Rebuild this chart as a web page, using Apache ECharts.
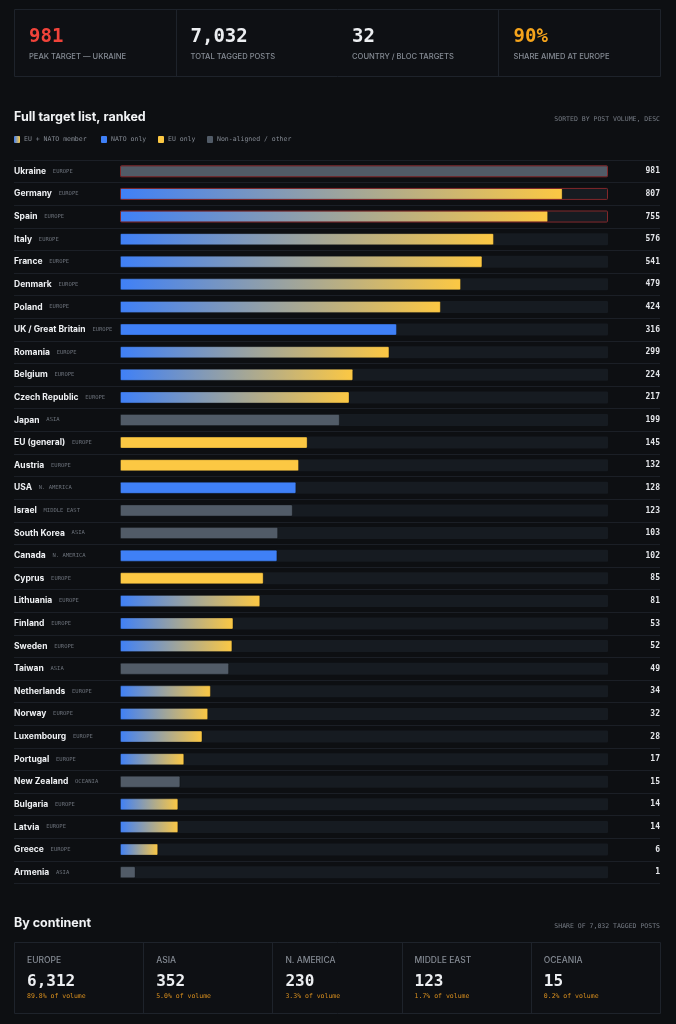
<!DOCTYPE html>
<html>
<head>
<meta charset="utf-8">
<title>Full target list, ranked</title>
<script src="https://cdn.jsdelivr.net/npm/echarts@6/dist/echarts.min.js"></script>
<style>
    html, body { margin: 0; padding: 0; background: #0d0f12; }
    #targets_chart { width: 676px; height: 1024px; }
</style>
</head>
<body>
<div id="targets_chart"></div>
<script>

// Data
// ------------------------------

var categories = ['Ukraine', 'Germany', 'Spain', 'Italy', 'France', 'Denmark', 'Poland', 'UK / Great Britain',
    'Romania', 'Belgium', 'Czech Republic', 'Japan', 'EU (general)', 'Austria', 'USA', 'Israel', 'South Korea',
    'Canada', 'Cyprus', 'Lithuania', 'Finland', 'Sweden', 'Taiwan', 'Netherlands', 'Norway', 'Luxembourg',
    'Portugal', 'New Zealand', 'Bulgaria', 'Latvia', 'Greece', 'Armenia'];

var regions = ['EUROPE', 'EUROPE', 'EUROPE', 'EUROPE', 'EUROPE', 'EUROPE', 'EUROPE', 'EUROPE',
    'EUROPE', 'EUROPE', 'EUROPE', 'ASIA', 'EUROPE', 'EUROPE', 'N. AMERICA', 'MIDDLE EAST', 'ASIA',
    'N. AMERICA', 'EUROPE', 'EUROPE', 'EUROPE', 'EUROPE', 'ASIA', 'EUROPE', 'EUROPE', 'EUROPE',
    'EUROPE', 'OCEANIA', 'EUROPE', 'EUROPE', 'EUROPE', 'ASIA'];

var posts = [981, 807, 755, 576, 541, 479, 424, 316, 299, 224, 217, 199, 145, 132, 128, 123, 103,
    102, 85, 81, 53, 52, 49, 34, 32, 28, 17, 15, 14, 14, 6, 1];

// both = EU + NATO, nato = NATO only, eu = EU only, none = non-aligned / other
var blocs = ['none', 'both', 'both', 'both', 'both', 'both', 'both', 'nato',
    'both', 'both', 'both', 'none', 'eu', 'eu', 'nato', 'none', 'none',
    'nato', 'eu', 'both', 'both', 'both', 'none', 'both', 'both', 'both',
    'both', 'none', 'both', 'both', 'both', 'none'];

var flagged = ['Ukraine', 'Germany', 'Spain'];

var legendKeys = ['both', 'nato', 'eu', 'none'];
var legendLabels = ['EU + NATO member', 'NATO only', 'EU only', 'Non-aligned / other'];

var kpiValues = ['981', '7,032', '32', '90%'];
var kpiLabels = ['PEAK TARGET \u2014 UKRAINE', 'TOTAL TAGGED POSTS', 'COUNTRY / BLOC TARGETS', 'SHARE AIMED AT EUROPE'];

var continentNames = ['EUROPE', 'ASIA', 'N. AMERICA', 'MIDDLE EAST', 'OCEANIA'];
var continentPosts = [6312, 352, 230, 123, 15];
var totalPosts = 7032;


// Setup
// ------------------------------

var BLUE = '#3f80f7';
var YELLOW = '#fcc843';
var GRAY = '#515b67';
var SANS = 'Inter, "Noto Sans", sans-serif';
var MONO = '"DejaVu Sans Mono", "Liberation Mono", monospace';

var blocColor = function(key) {
    if (key === 'nato') return BLUE;
    if (key === 'eu') return YELLOW;
    if (key === 'none') return GRAY;
    return new echarts.graphic.LinearGradient(0, 0, 1, 0, [
        { offset: 0, color: BLUE },
        { offset: 1, color: YELLOW }
    ]);
};

// bar length follows the square root of the post count
var rootMax = Math.sqrt(Math.max.apply(null, posts));
var trackLeft = 120, trackRight = 608, gridLeft = 14, gridRight = 660;
var unitPx = (trackRight - trackLeft) / rootMax;

var chart = echarts.init(document.getElementById('targets_chart'), null, { renderer: 'canvas' });

var graphics = [];

// KPI strip
graphics.push({
    type: 'rect', shape: { x: 14.5, y: 9.5, width: 646, height: 67 },
    style: { fill: '#0e1014', stroke: '#1e232b', lineWidth: 1 }, z: 0
});
[176, 498].forEach(function(x) {
    graphics.push({ type: 'line', shape: { x1: x + 0.5, y1: 10, x2: x + 0.5, y2: 76 }, style: { stroke: '#1e232b', lineWidth: 1 } });
});
var kpiColors = ['#f0433a', '#eceef1', '#eceef1', '#f5a41c'];
kpiValues.forEach(function(v, i) {
    var x = 29 + i * 161.5;
    graphics.push({ type: 'text', x: x, y: 37, style: { text: v, fill: kpiColors[i], font: 'bold 19px ' + MONO, verticalAlign: 'middle' } });
    graphics.push({ type: 'text', x: x, y: 57, style: { text: kpiLabels[i], fill: '#858b94', font: '500 7.6px ' + SANS, verticalAlign: 'middle' } });
});

// Section header + legend
graphics.push({ type: 'text', x: 14, y: 117, style: { text: 'Full target list, ranked', fill: '#f1f3f5', font: 'bold 12.5px ' + SANS, verticalAlign: 'middle' } });
graphics.push({ type: 'text', x: 660, y: 119, style: { text: 'SORTED BY POST VOLUME, DESC', fill: '#767c85', font: '6.5px ' + MONO, align: 'right', verticalAlign: 'middle' } });

var legendX = [14, 101, 158, 207];
legendKeys.forEach(function(k, i) {
    graphics.push({ type: 'rect', shape: { x: legendX[i], y: 136, width: 6, height: 7, r: 1 }, style: { fill: blocColor(k) } });
    graphics.push({ type: 'text', x: legendX[i] + 10, y: 139.5, style: { text: legendLabels[i], fill: '#858b94', font: '6.5px ' + MONO, verticalAlign: 'middle' } });
});

// Continent section
graphics.push({ type: 'text', x: 14, y: 923, style: { text: 'By continent', fill: '#f1f3f5', font: 'bold 12.5px ' + SANS, verticalAlign: 'middle' } });
graphics.push({ type: 'text', x: 660, y: 926, style: { text: 'SHARE OF ' + totalPosts.toLocaleString('en-US') + ' TAGGED POSTS', fill: '#767c85', font: '6.5px ' + MONO, align: 'right', verticalAlign: 'middle' } });
graphics.push({
    type: 'rect', shape: { x: 14.5, y: 942.5, width: 646, height: 71 },
    style: { fill: '#0e1014', stroke: '#1e232b', lineWidth: 1 }
});
continentNames.forEach(function(name, i) {
    var x0 = 14 + i * 129.2;
    if (i > 0) {
        graphics.push({ type: 'line', shape: { x1: Math.round(x0) + 0.5, y1: 943, x2: Math.round(x0) + 0.5, y2: 1013 }, style: { stroke: '#1e232b', lineWidth: 1 } });
    }
    graphics.push({ type: 'text', x: x0 + 13, y: 960, style: { text: name, fill: '#858b94', font: '500 8.5px ' + SANS, verticalAlign: 'middle' } });
    graphics.push({ type: 'text', x: x0 + 13, y: 982, style: { text: continentPosts[i].toLocaleString('en-US'), fill: '#eceef1', font: 'bold 16px ' + MONO, verticalAlign: 'middle' } });
    graphics.push({ type: 'text', x: x0 + 13, y: 996, style: { text: (continentPosts[i] / totalPosts * 100).toFixed(1) + '% of volume', fill: '#d98f1e', font: '6.5px ' + MONO, verticalAlign: 'middle' } });
});


// Chart config
// ------------------------------

chart.setOption({
    backgroundColor: '#0d0f12',
    animation: false,
    textStyle: { fontFamily: SANS },

    grid: {
        left: gridLeft,
        right: 676 - gridRight,
        top: 160,
        height: 723.5
    },

    xAxis: {
        type: 'value',
        min: -(trackLeft - gridLeft) / unitPx,
        max: rootMax + (gridRight - trackRight) / unitPx,
        show: false
    },

    yAxis: [
        {
            type: 'category',
            data: categories,
            inverse: true,
            position: 'left',
            axisLine: { show: false },
            axisTick: { show: false },
            splitLine: { show: true, lineStyle: { color: '#1b1f26', width: 1 } },
            axisLabel: {
                inside: true,
                margin: 0,
                formatter: function(name, idx) {
                    return '{n|' + name + '}  {r|' + regions[idx] + '}';
                },
                rich: {
                    n: { color: '#eef0f3', fontFamily: SANS, fontWeight: 'bold', fontSize: 8.5 },
                    r: { color: '#6b717a', fontFamily: MONO, fontSize: 5.5 }
                }
            }
        },
        {
            type: 'category',
            data: posts.map(String),
            inverse: true,
            position: 'right',
            axisLine: { show: false },
            axisTick: { show: false },
            splitLine: { show: false },
            axisLabel: {
                inside: true,
                margin: 0,
                color: '#e4e6ea',
                fontFamily: MONO,
                fontWeight: 'bold',
                fontSize: 8,
                padding: [2, 0, 0, 0]
            }
        }
    ],

    series: [
        {
            name: 'track',
            type: 'bar',
            silent: true,
            barWidth: 12,
            barGap: '-100%',
            itemStyle: { color: '#161b21', borderRadius: 1 },
            data: categories.map(function() { return rootMax; }),
            z: 1
        },
        {
            name: 'posts',
            type: 'bar',
            silent: true,
            barWidth: 12,
            barGap: '-100%',
            data: posts.map(function(v, i) {
                return {
                    value: Math.sqrt(v),
                    itemStyle: { color: blocColor(blocs[i]), borderColor: 'rgba(0,0,0,0.3)', borderWidth: 1, borderRadius: 1 }
                };
            }),
            z: 2
        },
        {
            name: 'outline',
            type: 'bar',
            silent: true,
            barWidth: 12,
            barGap: '-100%',
            data: categories.map(function(c) {
                var hot = flagged.indexOf(c) > -1;
                return {
                    value: rootMax,
                    itemStyle: { color: 'rgba(0,0,0,0)', borderColor: hot ? '#82272a' : 'rgba(0,0,0,0)', borderWidth: hot ? 1 : 0, borderRadius: 1 }
                };
            }),
            z: 3
        }
    ],

    graphic: graphics
});

</script>
</body>
</html>
